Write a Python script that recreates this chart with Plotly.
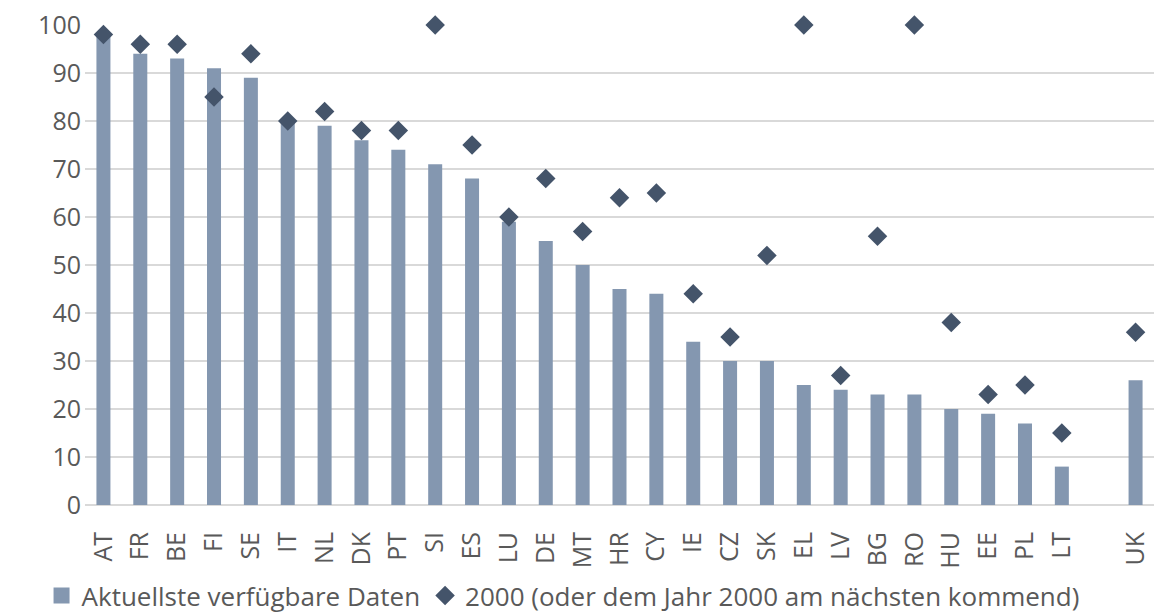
import plotly.graph_objects as go

categories = ["AT", "FR", "BE", "FI", "SE", "IT", "NL", "DK", "PT", "SI", "ES", "LU", "DE", "MT",
              "HR", "CY", "IE", "CZ", "SK", "EL", "LV", "BG", "RO", "HU", "EE", "PL", "LT", " ", "UK"]
latest = [98, 94, 93, 91, 89, 80, 79, 76, 74, 71, 68, 59, 55, 50,
          45, 44, 34, 30, 30, 25, 24, 23, 23, 20, 19, 17, 8, None, 26]
year2000 = [98, 96, 96, 85, 94, 80, 82, 78, 78, 100, 75, 60, 68, 57,
            64, 65, 44, 35, 52, 100, 27, 56, 100, 38, 23, 25, 15, None, 36]
y_ticks = [0, 10, 20, 30, 40, 50, 60, 70, 80, 90, 100]

FONT = "Open Sans"
TXT = "#595959"
BAR_COLOR = "#8497b0"
DIA_COLOR = "#44546a"
BAR_NAME = "Aktuellste verfügbare Daten"
DIA_NAME = "2000 (oder dem Jahr 2000 am nächsten kommend)"

fig = go.Figure()
fig.add_trace(go.Bar(
    x=categories, y=latest, name=BAR_NAME, showlegend=False,
    marker=dict(color=BAR_COLOR, line=dict(width=0)),
))
# legend entry for the bars, drawn as a square like the original
fig.add_trace(go.Scatter(
    x=[None], y=[None], mode="markers", name=BAR_NAME,
    marker=dict(symbol="square", size=16, color=BAR_COLOR),
))
fig.add_trace(go.Scatter(
    x=categories, y=year2000, mode="markers", name=DIA_NAME,
    marker=dict(symbol="diamond", size=15, color=DIA_COLOR),
    cliponaxis=False,
))

fig.update_layout(
    width=1154, height=614,
    margin=dict(l=85, r=0, t=25, b=109, autoexpand=False),
    paper_bgcolor="white", plot_bgcolor="white",
    bargap=0.62,
    font=dict(family=FONT, size=25, color=TXT),
    showlegend=True,
    legend=dict(orientation="h", xref="container", yref="container",
                x=0.036, xanchor="left", y=0.03, yanchor="middle",
                bgcolor="rgba(0,0,0,0)",
                font=dict(family=FONT, size=26, color=TXT), itemwidth=30,
                tracegroupgap=0, traceorder="normal"),
    xaxis=dict(type="category", tickangle=-90, tickfont=dict(family=FONT, size=25, color=TXT),
               showgrid=False, showline=False, ticks="", categoryorder="array",
               categoryarray=categories, range=[-0.5, len(categories) - 0.5],
               automargin=False, ticklabelstandoff=21),
    yaxis=dict(range=[0, 100], tickvals=y_ticks, showgrid=True, gridcolor="#d9d9d9",
               gridwidth=1.5, zeroline=True, zerolinecolor="#d9d9d9", zerolinewidth=1.5,
               showline=False, ticks="", tickfont=dict(family=FONT, size=25, color=TXT),
               ticklabelstandoff=3, automargin=False),
)

fig.write_html("out.html")
